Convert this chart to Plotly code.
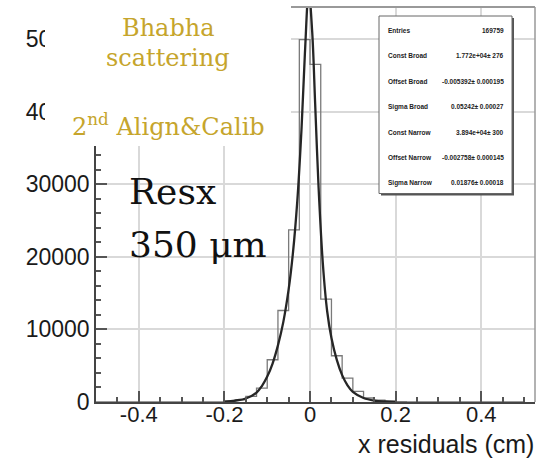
import plotly.graph_objects as go

# ---------------- data ----------------
bin_width = 0.025
bin_lo = -0.5
counts = [0, 0, 0, 0, 0, 0, 0, 0, 0, 0,
          10, 30, 100, 300, 780, 1920, 5820, 12600, 23700, 49900,
          46500, 14170, 6370, 3300, 1460, 550, 250, 120, 40, 15,
          0, 0, 0, 0, 0, 0, 0, 0, 0, 0]

fit_x = [-0.20, -0.175, -0.15, -0.125, -0.1125, -0.10, -0.0875, -0.075, -0.0625,
         -0.05, -0.04, -0.03, -0.02, -0.012, -0.003, 0.005, 0.012, 0.02, 0.03,
         0.04, 0.05, 0.0625, 0.075, 0.0875, 0.10, 0.125, 0.15, 0.175, 0.20]
fit_y = [50, 200, 480, 1300, 2200, 3500, 5300, 7800, 11000,
         15500, 20500, 27500, 37500, 48000, 56600, 51000, 41000, 29500, 19000,
         12500, 8800, 5800, 3700, 2300, 1400, 550, 200, 70, 20]

x_tickvals = [-0.4, -0.2, 0, 0.2, 0.4]
x_ticktext = ["-0.4", "-0.2", "0", "0.2", "0.4"]
y_tickvals = [0, 10000, 20000, 30000, 40000, 50000]
y_ticktext = ["0", "10000", "20000", "30000", "40000", "50000"]

stats_labels = ["Entries", "Const Broad", "Offset Broad", "Sigma Broad",
                "Const Narrow", "Offset Narrow", "Sigma Narrow"]
stats_values = ["169759", "1.772e+04\u00b1 276", "-0.005392\u00b1 0.000195",
                "0.05242\u00b1 0.00027", "3.894e+04\u00b1 300",
                "-0.002758\u00b1 0.000145", "0.01876\u00b1 0.00018"]

# ---------------- layout geometry ----------------
W, H = 538, 458
ML, MR, MT, MB = 96, 3, 7, 56
PW, PH = W - ML - MR, H - MT - MB


def px(xp):
    return (xp - ML) / PW


def py(yp):
    return (H - MB - yp) / PH


edges = [bin_lo + i * bin_width for i in range(len(counts) + 1)]
hist_y = counts + [counts[-1]]

fig = go.Figure()
fig.add_trace(go.Scatter(x=edges, y=hist_y, mode="lines", line_shape="hv",
                         line=dict(color="#7a7a7a", width=1.3),
                         hoverinfo="skip", showlegend=False))
fig.add_trace(go.Scatter(x=fit_x, y=fit_y, mode="lines", line_shape="spline",
                         line=dict(color="#262626", width=2.3),
                         hoverinfo="skip", showlegend=False))

tickfont = dict(family="Liberation Sans, Arial, sans-serif", size=22, color="#1a1a1a")
fig.update_xaxes(range=[-0.5, 0.5255], tickvals=x_tickvals, ticktext=x_ticktext,
                 ticks="inside", ticklen=11, tickwidth=1.5, tickcolor="#555",
                 ticklabelstandoff=-8,
                 showgrid=True, gridcolor="#d9d9d9", gridwidth=1.5,
                 showline=True, linecolor="#444", linewidth=1.5,
                 zeroline=False, tickfont=tickfont,
                 minor=dict(dtick=0.05, tick0=0, ticks="inside", ticklen=5,
                            tickwidth=1.5, tickcolor="#555", showgrid=False))
fig.update_yaxes(range=[0, 54400], tickvals=y_tickvals, ticktext=y_ticktext,
                 ticks="inside", ticklen=11, tickwidth=1.5, tickcolor="#555",
                 showgrid=True, gridcolor="#d9d9d9", gridwidth=1.5,
                 showline=True, linecolor="#444", linewidth=1.5,
                 zeroline=False, tickfont=dict(family="Liberation Sans, Arial, sans-serif",
                                               size=23, color="#1a1a1a"),
                 minor=dict(dtick=2000, tick0=0, ticks="inside", ticklen=5,
                            tickwidth=1.5, tickcolor="#555", showgrid=False))

shapes = []
# frame top/right
shapes.append(dict(type="line", xref="paper", yref="paper", x0=0, x1=1, y0=1, y1=1,
                   line=dict(color="#999", width=2), layer="above"))
shapes.append(dict(type="line", xref="paper", yref="paper", x0=1, x1=1, y0=0, y1=1,
                   line=dict(color="#999", width=1.5), layer="above"))
# white cover behind gold labels
shapes.append(dict(type="rect", xref="paper", yref="paper",
                   x0=px(45), x1=px(291), y0=py(146), y1=py(-2),
                   fillcolor="white", line=dict(width=0), layer="above"))
# stats box shadow + box
shapes.append(dict(type="rect", xref="paper", yref="paper",
                   x0=px(381), x1=px(514), y0=py(195.5), y1=py(18),
                   fillcolor="#555", line=dict(width=0), layer="above"))
shapes.append(dict(type="rect", xref="paper", yref="paper",
                   x0=px(379), x1=px(512), y0=py(193.5), y1=py(16),
                   fillcolor="white", line=dict(color="#666", width=1), layer="above"))

ann = []
gold = "#c6a52c"
serif = "DejaVu Serif, serif"
for txt, yp in [("Bhabha", 28), ("scattering", 58), ("2<sup>nd</sup> Align&amp;Calib", 125)]:
    ann.append(dict(text=txt, x=px(168), y=py(yp), xref="paper", yref="paper",
                    xanchor="center", yanchor="middle", showarrow=False,
                    font=dict(family=serif, size=24, color=gold)))
for txt, yp in [("Resx", 191), ("350 \u03bcm", 244)]:
    ann.append(dict(text=txt, x=px(127), y=py(yp), xref="paper", yref="paper",
                    xanchor="left", yanchor="middle", showarrow=False,
                    font=dict(family=serif, size=36, color="#111")))
row_y0, row_dy = 30.5, 25.4
sfont = dict(family="Liberation Sans, Arial, sans-serif", size=6.5, color="#222")
for i, (lab, val) in enumerate(zip(stats_labels, stats_values)):
    yp = row_y0 + i * row_dy
    ann.append(dict(text="<b>" + lab + "</b>", x=px(386), y=py(yp), xref="paper", yref="paper",
                    xanchor="left", yanchor="middle", showarrow=False, font=sfont))
    ann.append(dict(text="<b>" + val + "</b>", x=px(506), y=py(yp), xref="paper", yref="paper",
                    xanchor="right", yanchor="middle", showarrow=False, font=sfont))
ann.append(dict(text="x residuals (cm)", x=px(536), y=py(444), xref="paper", yref="paper",
                xanchor="right", yanchor="middle", showarrow=False,
                font=dict(family="Liberation Sans, Arial, sans-serif", size=25, color="#1a1a1a")))

fig.update_layout(width=W, height=H, margin=dict(l=ML, r=MR, t=MT, b=MB),
                  paper_bgcolor="white", plot_bgcolor="white",
                  shapes=shapes, annotations=ann, showlegend=False)

fig.write_html("out.html")
